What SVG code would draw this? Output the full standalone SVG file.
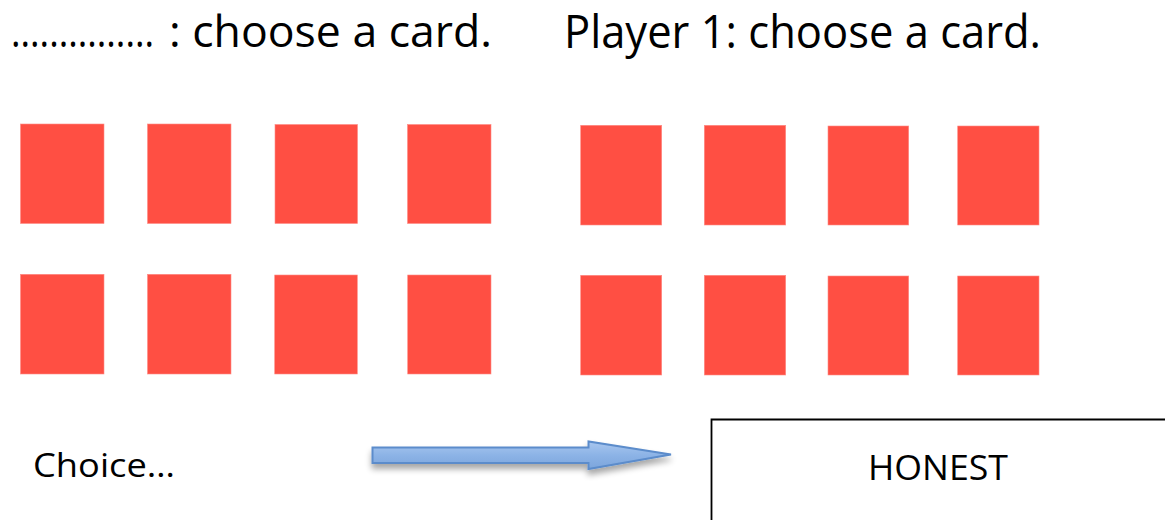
<svg xmlns="http://www.w3.org/2000/svg" width="1165" height="520" viewBox="0 0 1165 520">
<style>
.card{fill:#FF4F43;stroke:#FF8C85;stroke-width:0.6}
.t{font-family:"Open Sans","Noto Sans",sans-serif;fill:#000}
</style>
<defs>
<linearGradient id="ag" x1="0" y1="0" x2="0" y2="1">
<stop offset="0" stop-color="#A9C7EF"/>
<stop offset="0.5" stop-color="#8CB3E6"/>
<stop offset="1" stop-color="#7CA5DC"/>
</linearGradient>
<filter id="sh" x="-10%" y="-50%" width="120%" height="250%">
<feGaussianBlur in="SourceAlpha" stdDeviation="3"/>
<feOffset dx="0" dy="5" result="b"/>
<feComponentTransfer><feFuncA type="linear" slope="0.35"/></feComponentTransfer>
<feMerge><feMergeNode/><feMergeNode in="SourceGraphic"/></feMerge>
</filter>
</defs>
<rect width="1165" height="520" fill="#fff"/>
<g id="title-left">
<text class="t" x="11" y="47" font-size="44" textLength="143" lengthAdjust="spacingAndGlyphs">...............</text>
<text class="t" x="169" y="47" font-size="44" textLength="323" lengthAdjust="spacingAndGlyphs">: choose a card.</text>
</g>
<g id="title-right">
<text class="t" x="564" y="48" font-size="45" textLength="477" lengthAdjust="spacingAndGlyphs">Player 1: choose a card.</text>
</g>
<g id="cards-left">
<rect class="card" x="20.5" y="124" width="83.5" height="99.5"/>
<rect class="card" x="147.5" y="124" width="83.5" height="99.5"/>
<rect class="card" x="275" y="124.5" width="82.5" height="99"/>
<rect class="card" x="407.5" y="124.5" width="83.5" height="99"/>
<rect class="card" x="20.5" y="274.3" width="83.5" height="99.7"/>
<rect class="card" x="147.5" y="274.3" width="83.5" height="99.7"/>
<rect class="card" x="274.7" y="275" width="82.6" height="99"/>
<rect class="card" x="407.7" y="275" width="83.3" height="99"/>
</g>
<g id="cards-right">
<rect class="card" x="580.7" y="125.3" width="81" height="99.7"/>
<rect class="card" x="704.3" y="125.3" width="81.4" height="99.7"/>
<rect class="card" x="828" y="126" width="80.7" height="99"/>
<rect class="card" x="957.7" y="126" width="81.3" height="99"/>
<rect class="card" x="580.7" y="275.3" width="81" height="99.7"/>
<rect class="card" x="704.3" y="275.3" width="81.4" height="99.7"/>
<rect class="card" x="828" y="276" width="80.7" height="99"/>
<rect class="card" x="957.7" y="276" width="81.3" height="99"/>
</g>
<g id="choice">
<text class="t" x="33" y="477" font-size="33" textLength="142" lengthAdjust="spacingAndGlyphs">Choice…</text>
</g>
<g id="connectors">
<path d="M372.5,447.5 L588.5,447.5 L588.5,441.5 L671,454.5 L588.5,469 L588.5,463 L372.5,463 Z" fill="url(#ag)" stroke="#5B8CCB" stroke-width="2" filter="url(#sh)"/>
</g>
<g id="honest">
<path d="M711.5,520 L711.5,419.5 L1165,419.5" fill="none" stroke="#000" stroke-width="1.8"/>
<text class="t" x="868" y="480" font-size="35" textLength="140" lengthAdjust="spacingAndGlyphs">HONEST</text>
</g>
</svg>
